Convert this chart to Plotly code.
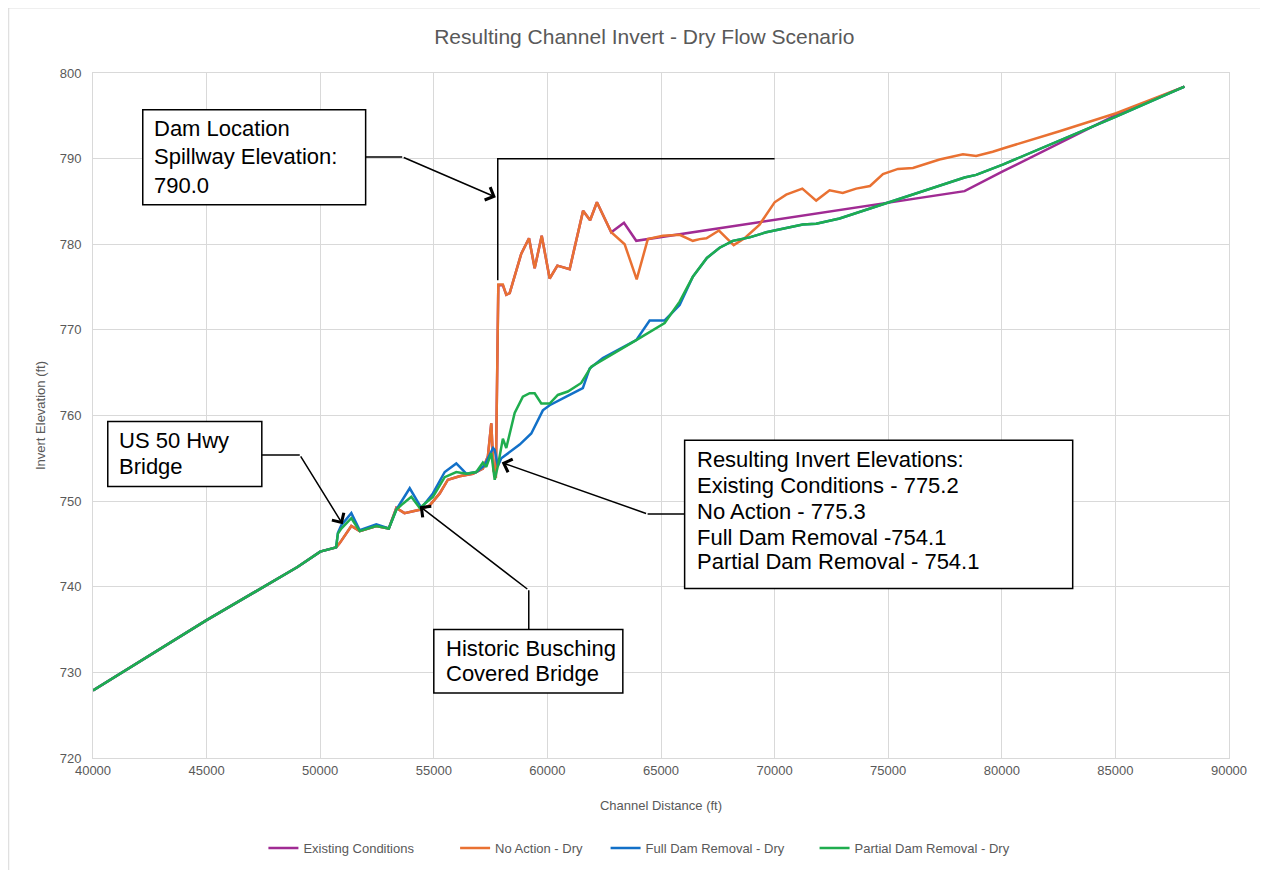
import plotly.graph_objects as go

# ── Data ──────────────────────────────────────────────────────────────────────

EXIST_X = [40000, 45000, 49000, 50000, 50700, 50860, 51370, 51740, 52470, 53020,
           53350, 53710, 54380, 54820, 55260, 55620, 56130, 56720, 57160, 57380,
           57530, 57630, 57730, 57840, 58040, 58190, 58340, 58850, 59190, 59440,
           59750, 60100, 60440, 60980, 61570, 61880, 62180, 62810, 63370, 63910,
           78360, 80040, 85030, 88040]
EXIST_Y = [727.9, 736.1, 742.3, 744.1, 744.6, 745.1, 747.1, 746.5, 747.1, 746.8,
           749.2, 748.6, 749.0, 749.5, 750.9, 752.5, 752.9, 753.2, 753.8, 755.2,
           759.1, 753.6, 752.7, 775.2, 775.2, 774.1, 774.3, 778.9, 780.7, 777.2,
           781.0, 776.0, 777.5, 777.1, 783.9, 782.8, 784.9, 781.4, 782.5, 780.4,
           786.2, 788.5, 795.1, 798.4]

NOACT_X = [40000, 45000, 49000, 50000, 50700, 50860, 51370, 51740, 52470, 53020,
           53350, 53710, 54380, 54820, 55260, 55620, 56130, 56720, 57160, 57380,
           57530, 57630, 57730, 57840, 58040, 58190, 58340, 58850, 59190, 59440,
           59750, 60100, 60440, 60980, 61570, 61880, 62180, 62810, 63400, 63930,
           64420, 65080, 65820, 66400, 66700, 67000, 67550, 68200, 68680, 69340,
           70000, 70510, 71220, 71830, 72420, 73000, 73590, 74200, 74770, 75430,
           76090, 77260, 78290, 78870, 79600, 80190, 82540, 84440, 85030, 88040]
NOACT_Y = [727.9, 736.1, 742.3, 744.1, 744.6, 745.1, 747.1, 746.5, 747.1, 746.8,
           749.2, 748.6, 749.0, 749.5, 750.9, 752.5, 752.9, 753.2, 753.8, 755.2,
           759.1, 753.6, 752.7, 775.3, 775.3, 774.1, 774.3, 778.9, 780.7, 777.2,
           781.0, 776.0, 777.5, 777.1, 783.9, 782.8, 784.9, 781.4, 780.0, 775.9,
           780.6, 781.0, 781.1, 780.4, 780.6, 780.7, 781.6, 779.9, 780.7, 782.3,
           784.9, 785.8, 786.5, 785.1, 786.3, 786.0, 786.5, 786.8, 788.2, 788.8,
           788.9, 789.9, 790.5, 790.3, 790.8, 791.3, 793.2, 794.8, 795.3, 798.4]

FULL_X = [40000, 45000, 49000, 50000, 50700, 50780, 50930, 51370, 51740, 52470,
          53020, 53350, 53940, 54450, 54960, 55480, 55990, 56430, 56870, 57240,
          57610, 57680, 57820, 57970, 58780, 59290, 59800, 60100, 60830, 61420,
          61560, 61860, 62440, 63910, 64500, 65160, 65820, 66400, 67020, 67580,
          68160, 68900, 69630, 71240, 71830, 72860, 75060, 78360, 78870, 79680,
          80040, 85030, 88040]
FULL_Y = [727.9, 736.1, 742.3, 744.1, 744.6, 746.3, 747.2, 748.6, 746.6, 747.3,
          746.8, 749.0, 751.5, 749.2, 750.9, 753.4, 754.4, 753.2, 753.4, 754.2,
          756.2, 756.0, 754.1, 755.0, 756.6, 757.9, 760.6, 761.2, 762.2, 763.0,
          763.2, 765.5, 766.7, 768.8, 771.1, 771.1, 772.9, 776.2, 778.4, 779.6,
          780.4, 780.8, 781.4, 782.3, 782.4, 783.0, 784.9, 787.8, 788.1, 788.9,
          789.3, 794.9, 798.4]

PART_X = [40000, 45000, 49000, 50000, 50700, 50780, 50930, 51370, 51740, 52470,
          53020, 53350, 53640, 54010, 54380, 54960, 55480, 55990, 56430, 56870,
          57160, 57310, 57530, 57680, 57820, 58040, 58190, 58560, 58920, 59220,
          59440, 59730, 60100, 60460, 60900, 61340, 61490, 61930, 63170, 63910,
          65160, 65820, 66400, 67020, 67580, 68160, 68900, 69630, 71240, 71830,
          72860, 75060, 78360, 78870, 79680, 80040, 85030, 88040]
PART_Y = [727.9, 736.1, 742.3, 744.1, 744.6, 746.2, 746.8, 748.0, 746.5, 747.1,
          746.8, 749.0, 749.7, 750.5, 749.2, 750.5, 752.8, 753.4, 753.2, 753.4,
          754.5, 754.0, 755.6, 752.5, 754.1, 757.3, 756.2, 760.3, 762.2, 762.6,
          762.6, 761.4, 761.4, 762.4, 762.8, 763.6, 763.8, 765.7, 767.6, 768.8,
          770.8, 773.3, 776.2, 778.4, 779.6, 780.4, 780.8, 781.4, 782.3, 782.4,
          783.0, 784.9, 787.8, 788.1, 788.9, 789.3, 794.9, 798.4]

NBSP = "\u00a0"
SERIES = [
    # names padded so the legend entries spread like the original
    ("Existing Conditions" + NBSP * 10,   EXIST_X, EXIST_Y, "#a02b93"),
    ("No Action - Dry" + NBSP * 5,        NOACT_X, NOACT_Y, "#e97132"),
    ("Full Dam Removal - Dry" + NBSP * 7, FULL_X,  FULL_Y,  "#1270c8"),
    ("Partial Dam Removal - Dry",         PART_X,  PART_Y,  "#1fad4e"),
]

# dam spillway marker
DAM_X, DAM_BASE, SPILLWAY, SPILL_END = 57815, 775.8, 790.0, 70000

GRID = "#d9d9d9"
GREY = "#595959"
FONT = "Liberation Sans"

fig = go.Figure()
for name, xs, ys, color in SERIES:
    fig.add_trace(go.Scatter(x=xs, y=ys, mode="lines", name=name,
                             line=dict(color=color, width=2.5)))

# ── Callout boxes, leaders and arrows ─────────────────────────────────────────

boxes = [
    # (x0, x1, y0, y1, text_x, [(line_y, text), ...])
    (42190, 52000, 784.6, 795.7, 42590,
     [(793.5, "Dam Location"), (790.2, "Spillway Elevation:"), (786.9, "790.0")]),
    (40650, 47430, 751.7, 759.3, 41050,
     [(757.1, "US 50 Hwy"), (754.0, "Bridge")]),
    (55000, 63320, 727.6, 735.0, 55440,
     [(732.8, "Historic Busching"), (729.9, "Covered Bridge")]),
    (66040, 83120, 739.8, 757.1, 66480,
     [(754.9, "Resulting Invert Elevations:"),
      (751.8, "Existing Conditions - 775.2"),
      (748.8, "No Action - 775.3"),
      (745.7, "Full Dam Removal -754.1"),
      (742.9, "Partial Dam Removal - 754.1")]),
]
leaders = [
    [(52000, 790.2), (53610, 790.2)],
    [(47430, 755.4), (49100, 755.4)],
    [(59180, 735.0), (59180, 739.6)],
    [(66040, 748.5), (64410, 748.5)],
]
arrows = [
    # (tail_x, tail_y, tip_x, tip_y)
    (53610, 790.2, 57730, 785.5),
    (49100, 755.4, 50990, 747.3),
    (59180, 739.6, 54380, 749.4),
    (64410, 748.5, 57990, 754.5),
]

for x0, x1, y0, y1, tx, lines in boxes:
    fig.add_shape(type="rect", x0=x0, x1=x1, y0=y0, y1=y1, xref="x", yref="y",
                  line=dict(color="black", width=1.5), fillcolor="white")
    for ly, text in lines:
        fig.add_annotation(x=tx, y=ly, xref="x", yref="y", text=text,
                           showarrow=False, xanchor="left", yanchor="middle",
                           font=dict(family=FONT, size=22, color="black"))

for (xa, ya), (xb, yb) in leaders:
    fig.add_shape(type="line", x0=xa, y0=ya, x1=xb, y1=yb, xref="x", yref="y",
                  line=dict(color="black", width=1.5))

for tx, ty, hx, hy in arrows:
    fig.add_annotation(x=hx, y=hy, ax=tx, ay=ty, xref="x", yref="y",
                       axref="x", ayref="y", text="", showarrow=True,
                       arrowhead=4, arrowsize=1.8, arrowwidth=1.5, arrowcolor="black")

fig.add_shape(type="path", xref="x", yref="y",
              path=f"M {DAM_X},{DAM_BASE} L {DAM_X},{SPILLWAY} L {SPILL_END},{SPILLWAY}",
              line=dict(color="black", width=1.5))

# outer chart-area border
fig.add_shape(type="rect", xref="paper", yref="paper", x0=-0.0742, x1=1.05,
              y0=-0.18, y1=1.095, line=dict(color=GRID, width=1), layer="below")

# ── Layout ────────────────────────────────────────────────────────────────────
# page body adds an 8px offset, so the figure is 8px smaller than the window

axis_common = dict(showgrid=True, gridcolor=GRID, gridwidth=1, showline=True,
                   linecolor=GRID, mirror=True, zeroline=False, ticks="",
                   automargin=False,
                   tickfont=dict(family=FONT, size=13, color=GREY))

fig.update_layout(
    width=1260, height=862,
    margin=dict(l=85, r=39, t=65, b=112),
    paper_bgcolor="white", plot_bgcolor="white",
    title=dict(text="Resulting Channel Invert - Dry Flow Scenario", x=0.505, xanchor="center",
               y=1 - 29 / 862, yanchor="middle",
               font=dict(family=FONT, size=21, color=GREY)),
    xaxis=dict(range=[40000, 90000], dtick=5000, tickformat="d",
               title=dict(text="Channel Distance (ft)", standoff=24,
                          font=dict(family=FONT, size=13, color=GREY)),
               **axis_common),
    yaxis=dict(range=[720, 800], dtick=10, ticklabelstandoff=8,
               title=dict(text="Invert Elevation (ft)", standoff=11,
                          font=dict(family=FONT, size=13, color=GREY)),
               **axis_common),
    legend=dict(orientation="h", x=0.481, xanchor="center",
                yref="container", y=1 - 840 / 862, yanchor="middle",
                font=dict(family=FONT, size=13, color=GREY)),
    showlegend=True,
)

fig.write_html("out.html")
